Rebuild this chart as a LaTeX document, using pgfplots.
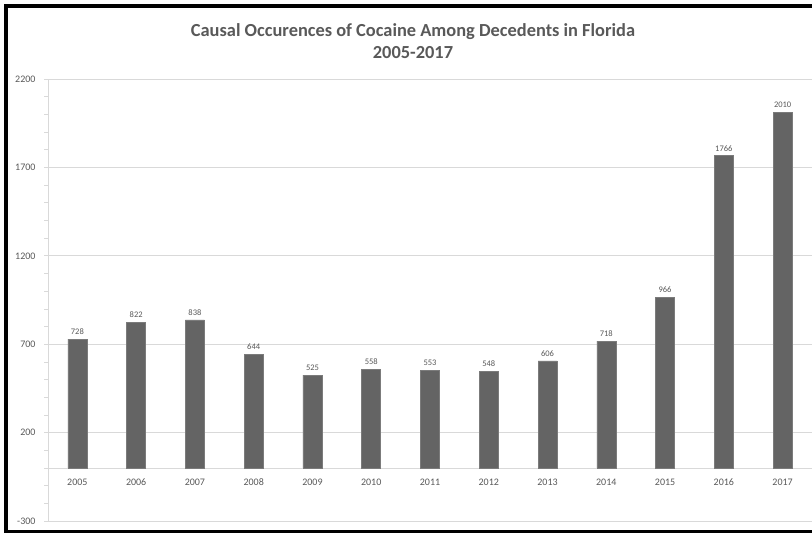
\documentclass[border=0pt]{standalone}
\usepackage{pgfplots}
\pgfplotsset{compat=1.18}
\usepackage{fontspec}
\setmainfont{Carlito}
\definecolor{txt}{HTML}{595959}
\definecolor{gridc}{HTML}{D9D9D9}
\definecolor{barc}{HTML}{646464}

\pgfplotstableread{
idx year count
0 2005 728
1 2006 822
2 2007 838
3 2008 644
4 2009 525
5 2010 558
6 2011 553
7 2012 548
8 2013 606
9 2014 718
10 2015 966
11 2016 1766
12 2017 2010
}\cocaine

\begin{document}
\begin{tikzpicture}
\clip (0pt,0pt) rectangle (812pt,533pt);
\fill[white] (0pt,0pt) rectangle (812pt,533pt);
% chart frame
\draw[line width=4pt,black] (820pt,527pt) -- (6pt,527pt) -- (6pt,1pt) -- (820pt,1pt);
% title
\node[font=\bfseries\fontsize{18.4}{22}\selectfont,text=txt,align=center] at (413pt,492pt)
  {Causal Occurences of Cocaine Among Decedents in Florida\\2005-2017};
\begin{axis}[
  at={(48pt,12pt)}, anchor=south west,
  scale only axis, width=764pt, height=442pt,
  xmin=-0.5, xmax=12.5,
  ymin=-300, ymax=2200,
  axis y line=left, axis x line=middle,
  axis line style={-,draw=gridc,line width=0.8pt},
  xtick=data,
  xticklabels={2005,2006,2007,2008,2009,2010,2011,2012,2013,2014,2015,2016,2017},
  x tick label style={font=\fontsize{10}{12}\selectfont,text=txt,anchor=base,yshift=-14pt},
  major x tick style={draw=none},
  ytick={-300,200,700,1200,1700,2200},
  minor y tick num=4,
  y tick label style={font=\fontsize{10}{12}\selectfont,text=txt,xshift=-5pt},
  y tick style={draw=gridc,line width=0.6pt},
  major tick length=4pt, minor tick length=4pt,
  tick align=outside,
  ymajorgrids,
  major grid style={draw=gridc,line width=0.8pt},
  /pgf/number format/assume math mode=true,
  /pgf/number format/1000 sep={},
  scaled y ticks=false,
  nodes near coords,
  every node near coord/.append style={font=\fontsize{8.5}{10}\selectfont,text=txt,yshift=1pt},
]
\addplot[ybar, bar width=19pt, fill=barc, draw=barc!85!white, line width=0.6pt]
  table[x=idx,y=count]{\cocaine};
\end{axis}
\end{tikzpicture}
\end{document}
